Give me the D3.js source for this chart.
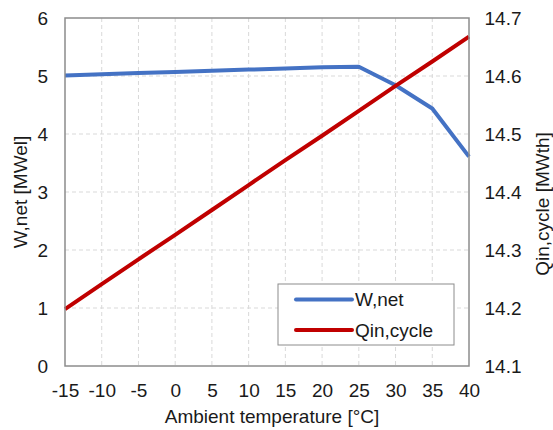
<!DOCTYPE html>
<html><head><meta charset="utf-8">
<script src="https://cdn.jsdelivr.net/npm/d3@7/dist/d3.min.js"></script>
<style>body{margin:0;background:#fff}svg{display:block}text{font-family:"Liberation Sans",Arial,sans-serif;fill:#1a1a1a}</style>
</head><body><svg id="c" width="553" height="430"></svg>
<script>
const temps = [-15,-10,-5,0,5,10,15,20,25,30,35,40];
const wNet = [5.01,5.03,5.05,5.07,5.09,5.11,5.13,5.15,5.16,4.84,4.44,3.61];
const qIn = [14.198,14.241,14.284,14.326,14.369,14.412,14.455,14.497,14.540,14.583,14.625,14.668];
const xTicks = [-15,-10,-5,0,5,10,15,20,25,30,35,40];
const yLeftTicks = [0,1,2,3,4,5,6];
const yRightTicks = [14.1,14.2,14.3,14.4,14.5,14.6,14.7];
const seriesNames = ["W,net","Qin,cycle"];
const colors = ["#4472C4","#C00000"];

const svg = d3.select("#c");
const L=65,R=469,T=18,B=366;
const x = d3.scaleLinear().domain([-15,40]).range([L,R]);
const yL = d3.scaleLinear().domain([0,6]).range([B,T]);
const yR = d3.scaleLinear().domain([14.1,14.7]).range([B,T]);

// grid
const g = svg.append("g");
g.selectAll(".vg").data(xTicks.slice(1,-1)).join("line")
 .attr("x1",d=>x(d)).attr("x2",d=>x(d)).attr("y1",T).attr("y2",B)
 .attr("stroke","#d9d9d9").attr("stroke-width",1).attr("stroke-dasharray","4,3");
g.selectAll(".hg").data(yLeftTicks.slice(1,-1)).join("line")
 .attr("x1",L).attr("x2",R).attr("y1",d=>yL(d)).attr("y2",d=>yL(d))
 .attr("stroke","#d9d9d9").attr("stroke-width",1).attr("stroke-dasharray","4,3");

// lines
const lineW = d3.line().x((d,i)=>x(temps[i])).y(d=>yL(d));
const lineQ = d3.line().x((d,i)=>x(temps[i])).y(d=>yR(d));
svg.append("path").datum(wNet).attr("d",lineW).attr("fill","none").attr("stroke",colors[0]).attr("stroke-width",4).attr("stroke-linejoin","round");
svg.append("path").datum(qIn).attr("d",lineQ).attr("fill","none").attr("stroke",colors[1]).attr("stroke-width",4).attr("stroke-linejoin","round");

// border
svg.append("rect").attr("x",L).attr("y",T).attr("width",R-L).attr("height",B-T)
 .attr("fill","none").attr("stroke","#8c8c8c").attr("stroke-width",1.5);

// axes
const fs = 19;
const ax = svg.append("g").attr("transform",`translate(0,${B})`).call(d3.axisBottom(x).tickValues(xTicks).tickSize(0).tickPadding(18).tickFormat(d=>String(d)));
const ayl = svg.append("g").attr("transform",`translate(${L},0)`).call(d3.axisLeft(yL).tickValues(yLeftTicks).tickSize(0).tickPadding(17).tickFormat(d=>String(d)));
const ayr = svg.append("g").attr("transform",`translate(${R},0)`).call(d3.axisRight(yR).tickValues(yRightTicks).tickSize(0).tickPadding(15.5).tickFormat(d3.format(".1f")));
[ax,ayl,ayr].forEach(a=>{a.select(".domain").remove();a.selectAll("text").attr("font-size",fs).attr("font-family","Liberation Sans, Arial, sans-serif").attr("fill","#1a1a1a");});

// titles
svg.append("text").attr("x",(L+R)/2+5).attr("y",423).attr("text-anchor","middle").attr("font-size",fs).text("Ambient temperature [°C]");
svg.append("text").attr("transform",`translate(27,${(T+B)/2}) rotate(-90)`).attr("text-anchor","middle").attr("font-size",fs).text("W,net [MWel]");
svg.append("text").attr("transform",`translate(549,${(T+B)/2+12}) rotate(-90)`).attr("text-anchor","middle").attr("font-size",fs).text("Qin,cycle [MWth]");

// legend
const lg = svg.append("g");
lg.append("rect").attr("x",278).attr("y",284).attr("width",176).attr("height",61).attr("fill","#fff").attr("stroke","#8c8c8c").attr("stroke-width",1);
const ly = [299.5,330];
seriesNames.forEach((n,i)=>{
  lg.append("line").attr("x1",296).attr("x2",352).attr("y1",ly[i]).attr("y2",ly[i]).attr("stroke",colors[i]).attr("stroke-width",4).attr("stroke-linecap","round");
  lg.append("text").attr("x",355).attr("y",ly[i]).attr("dy","0.35em").attr("font-size",fs).text(n);
});
</script></body></html>
